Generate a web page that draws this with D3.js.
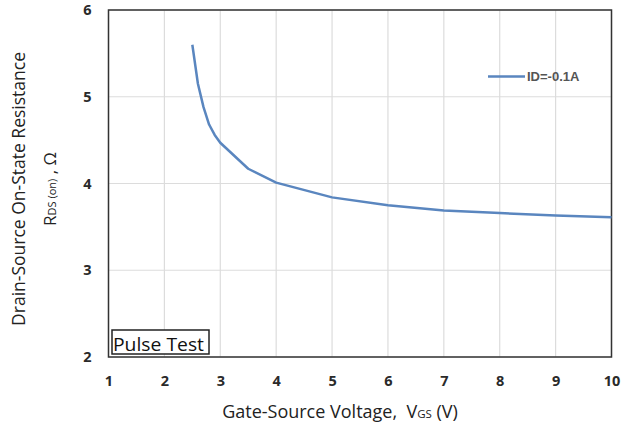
<!DOCTYPE html>
<html>
<head>
<meta charset="utf-8">
<script src="https://cdn.jsdelivr.net/npm/d3@7"></script>
<style>
  body { margin: 0; background: #fff; }
</style>
</head>
<body>
<svg id="chart" width="629" height="427"></svg>
<script>
// values
const vgs  = [2.5, 2.6, 2.7, 2.8, 2.9, 3.0, 3.5, 4.0, 5.0, 6.0, 7.0, 8.0, 9.0, 10.0];
const rdsOn = [5.6, 5.15, 4.88, 4.68, 4.56, 4.47, 4.17, 4.01, 3.84, 3.75, 3.69, 3.66, 3.63, 3.61];
const xTicks = [1, 2, 3, 4, 5, 6, 7, 8, 9, 10];
const yTicks = [2, 3, 4, 5, 6];
const seriesName = 'ID=-0.1A';

const svg = d3.select('#chart');
const m = { left: 108.5, top: 10, right: 611.5, bottom: 357 };

const x = d3.scaleLinear().domain([1, 10]).range([m.left, m.right]);
const y = d3.scaleLinear().domain([2, 6]).range([m.bottom, m.top]);

// grid
svg.append('g').selectAll('line').data(xTicks).join('line')
  .attr('x1', d => x(d)).attr('x2', d => x(d))
  .attr('y1', m.top).attr('y2', m.bottom)
  .attr('stroke', '#dcdcdc').attr('stroke-width', 1.2);
svg.append('g').selectAll('line').data(yTicks).join('line')
  .attr('y1', d => y(d)).attr('y2', d => y(d))
  .attr('x1', m.left).attr('x2', m.right)
  .attr('stroke', '#dcdcdc').attr('stroke-width', 1.2);

// axes (labels only, no tick marks)
const xAxis = svg.append('g').attr('transform', `translate(0,${m.bottom})`)
  .call(d3.axisBottom(x).tickValues(xTicks).tickFormat(d3.format('d')).tickSize(0).tickPadding(19));
const yAxis = svg.append('g').attr('transform', `translate(${m.left},0)`)
  .call(d3.axisLeft(y).tickValues(yTicks).tickFormat(d3.format('d')).tickSize(0).tickPadding(17));
[xAxis, yAxis].forEach(a => {
  a.select('.domain').remove();
  a.selectAll('text').attr('font-family', 'Open Sans, sans-serif')
    .attr('font-size', 14.5).attr('font-weight', 'bold').attr('fill', '#2a2a2a');
});

// plot frame
svg.append('rect')
  .attr('x', m.left).attr('y', m.top)
  .attr('width', m.right - m.left).attr('height', m.bottom - m.top)
  .attr('fill', 'none').attr('stroke', '#333').attr('stroke-width', 1.5);

// curve
const line = d3.line().x((d, i) => x(vgs[i])).y(d => y(d));
svg.append('path').datum(rdsOn)
  .attr('d', line).attr('fill', 'none')
  .attr('stroke', '#5a86bf').attr('stroke-width', 2.5).attr('stroke-linejoin', 'round');

// legend
svg.append('line').attr('x1', 488).attr('x2', 525).attr('y1', 76.5).attr('y2', 76.5)
  .attr('stroke', '#5a86bf').attr('stroke-width', 2.5);
svg.append('text').attr('x', 527).attr('y', 81)
  .attr('font-family', 'Liberation Sans, Arial, sans-serif').attr('font-size', 13)
  .attr('font-weight', 'bold').attr('fill', '#555').text(seriesName);

// pulse test box
svg.append('rect').attr('x', 112).attr('y', 330).attr('width', 97).attr('height', 24)
  .attr('fill', '#fff').attr('stroke', '#222').attr('stroke-width', 1.5);
svg.append('text').attr('x', 113).attr('y', 351)
  .attr('font-family', 'Open Sans, sans-serif').attr('font-size', 17.5).attr('fill', '#111')
  .attr('textLength', 91).attr('lengthAdjust', 'spacingAndGlyphs').text('Pulse Test');

// axis titles
const xt = svg.append('text').attr('x', 340).attr('y', 418).attr('text-anchor', 'middle')
  .attr('font-family', 'Open Sans, sans-serif').attr('font-size', 18).attr('fill', '#222');
xt.append('tspan').text('Gate-Source Voltage,\u00a0\u00a0V');
xt.append('tspan').attr('font-size', 11.5).text('GS');
xt.append('tspan').text(' (V)');

svg.append('text').attr('transform', 'translate(25,189) rotate(-90)').attr('text-anchor', 'middle')
  .attr('font-family', 'Open Sans, sans-serif').attr('font-size', 17.5).attr('fill', '#222')
  .text('Drain-Source On-State Resistance');

const yt = svg.append('text').attr('transform', 'translate(56,189) rotate(-90)').attr('text-anchor', 'middle')
  .attr('font-family', 'Open Sans, sans-serif').attr('font-size', 17).attr('fill', '#222');
yt.append('tspan').text('R');
yt.append('tspan').attr('font-size', 11).text('DS (on)');
yt.append('tspan').text(' , Ω');
</script>
</body>
</html>
